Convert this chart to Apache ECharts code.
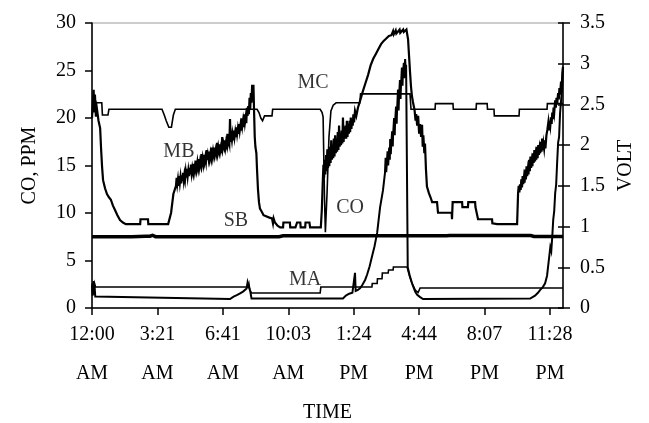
<!DOCTYPE html>
<html><head><meta charset="utf-8">
<script src="https://cdn.jsdelivr.net/npm/echarts@6/dist/echarts.min.js"></script>
<style>html,body{margin:0;padding:0;background:#fff}#c{width:649px;height:423px}</style>
</head><body><div id="c"></div>
<script>
// x values are minutes after midnight
const X_TICK_LABELS = ['12:00\nAM','3:21\nAM','6:41\nAM','10:03\nAM','1:24\nPM','4:44\nPM','8:07\nPM','11:28\nPM'];
const X_TICK_STEP = 201;
const X_MAX = 1447;
const PPM_TICKS = [0,5,10,15,20,25,30];
const VOLT_TICKS = [0,0.5,1,1.5,2,2.5,3,3.5];

// CO, ppm (left axis)
const CO = [[0,2.4],[2,1.3],[4,2.6],[6,1.4],[8,2.3],[10,1.2],[13,1.0],[424,0.95],[430,1.1],[435,1.2],[440,1.3],[445,1.35],[450,1.5],[455,1.55],[460,1.7],[465,1.75],[470,1.95],[475,2.05],[478,2.7],[481,2.3],[486,1.8],[490,1.0],[771,1.0],[780,1.3],[790,1.5],[800,1.6],[806,1.7],[808,3.7],[810,1.8],[817,1.9],[824,2.1],[830,2.4],[839,2.95],[845,3.5],[853,4.4],[860,5.4],[868,6.5],[876,7.9],[885,10.6],[894,12.4],[900,14.2],[902,15.8],[904,14.3],[906,15.4],[908,16.5],[910,15.0],[913,16.9],[915,15.6],[916,17.8],[918,16.2],[919,17.0],[922,18.6],[924,17.0],[925,18.2],[928,20.0],[930,18.2],[931,19.4],[934,21.2],[936,19.4],[937,20.6],[940,23.0],[942,20.8],[943,22.0],[946,24.0],[948,22.0],[949,23.2],[952,25.3],[954,23.4],[955,24.6],[958,25.8],[959,24.2],[960,25.0],[962,26.2],[964,24.8],[965,25.6],[968,25.6],[970,4.3],[977,3.3],[983,2.6],[993,1.7],[999,1.4],[1008,1.15],[1017,0.95],[1346,1.0],[1352,1.1],[1361,1.3],[1370,1.6],[1377,1.9],[1385,2.2],[1392,2.6],[1398,3.4],[1401,4.3],[1405,5.5],[1408,6.4],[1411,6.0],[1414,7.5],[1417,9.3],[1420,10.2],[1423,12.1],[1426,13.0],[1429,15.3],[1432,17.4],[1435,18.0],[1438,20.5],[1441,21.8],[1444,23.0],[1447,25.4]];

// sensor voltages (right axis)
const MA = [[0,0.30],[2,0.20],[4,0.33],[6,0.22],[8,0.30],[11,0.258],[479,0.258],[482,0.30],[485,0.22],[490,0.184],[701,0.184],[703,0.258],[860,0.258],[861,0.30],[876,0.30],[877,0.36],[891,0.36],[892,0.43],[910,0.43],[911,0.467],[925,0.467],[926,0.503],[968,0.503],[975,0.40],[983,0.307],[993,0.22],[1002,0.19],[1008,0.246],[1447,0.246]];

const MB = [[0,2.33],[3,2.55],[5,2.68],[7,2.40],[9,2.62],[12,2.35],[15,2.45],[20,2.30],[25,2.21],[28,1.95],[31,1.73],[34,1.57],[40,1.47],[46,1.40],[52,1.36],[58,1.33],[64,1.26],[71,1.20],[78,1.14],[86,1.08],[95,1.05],[104,1.03],[148,1.03],[149,1.09],[172,1.09],[173,1.03],[234,1.03],[243,1.17],[250,1.40],[258,1.50],
[260,1.60],[262,1.52],[264,1.58],[266,1.50],[268,1.62],[270,1.54],[272,1.61],[274,1.53],[276,1.63],[278,1.56],[280,1.66],[282,1.57],[284,1.64],[286,1.58],[288,1.67],[290,1.60],[292,1.71],[294,1.62],[296,1.69],[298,1.62],[300,1.72],[302,1.64],[304,1.76],[306,1.66],[308,1.72],[310,1.67],[312,1.77],[314,1.68],[316,1.74],[318,1.70],[320,1.81],[322,1.72],[324,1.79],[326,1.73],[328,1.83],[330,1.74],[332,1.80],[334,1.76],[336,1.89],[338,1.78],[340,1.84],[342,1.78],[344,1.88],[346,1.80],[348,1.85],[350,1.80],[352,1.94],[354,1.82],[356,1.88],[358,1.83],[360,1.92],[362,1.84],[364,1.90],[366,1.85],[368,1.97],[370,1.87],[372,1.93],[374,1.88],[376,1.97],[378,1.89],[380,1.94],[382,1.90],[384,2.03],[386,1.92],[388,1.98],[390,1.93],[392,2.01],[394,1.93],[396,1.98],[398,1.95],[400,2.10],[402,1.97],[404,2.02],[406,1.98],[408,2.06],[410,1.98],[412,2.04],[414,2.00],[416,2.14],[418,2.02],[420,2.06],[422,2.02],[424,2.32],[426,2.04],[428,2.12],[430,2.06],[432,2.13],[434,2.06],[436,2.18],[438,2.10],[440,2.16],[442,2.10],[444,2.22],[446,2.14],[448,2.20],[450,2.14],[452,2.26],[454,2.18],[456,2.24],[458,2.18],[460,2.33],[462,2.24],[464,2.30],[466,2.22],[468,2.38],[470,2.28],[472,2.34],[474,2.27],[476,2.46],[478,2.36],[480,2.48],[482,2.38],[484,2.58],[486,2.44],[488,2.64],[490,2.52],[492,2.74],[493,2.76],[494,2.60],[496,2.74],[498,2.40],[500,2.10],[502,1.98],[505,1.90],[507,1.70],[510,1.45],[513,1.30],[516,1.22],[522,1.18],[527,1.14],[532,1.12],[545,1.11],[553,1.10],[556,1.04],[558,1.10],[562,1.05],[570,1.01],[578,0.99],[587,0.99],[588,1.05],[608,1.05],[609,0.99],[625,0.99],[630,1.05],[640,1.05],[641,0.99],[655,0.99],[656,1.05],[668,1.05],[670,0.99],[703,0.99],
[706,1.20],[709,1.55],[711,1.76],[713,1.60],[715,1.82],[717,1.64],[719,1.88],[721,1.68],[723,1.95],[725,1.72],[727,1.92],[729,1.74],[731,1.98],[733,1.78],[735,2.06],[737,1.82],[739,2.00],[741,1.84],[743,2.08],[745,1.86],[747,2.12],[749,1.90],[751,2.06],[753,1.92],[755,2.16],[757,1.94],[759,2.24],[761,1.98],[763,2.14],[765,2.00],[767,2.18],[769,2.02],[771,2.34],[773,2.04],[775,2.22],[777,2.08],[779,2.24],[781,2.08],[783,2.30],[785,2.10],[787,2.26],[789,2.14],[791,2.30],[793,2.16],[795,2.34],[797,2.20],[799,2.32],[801,2.24],[803,2.38],[805,2.28],[808,2.42],[812,2.36],[817,2.46],[824,2.55],[832,2.66],[840,2.76],[848,2.86],[856,2.98],[864,3.06],[872,3.12],[880,3.18],[888,3.24],[896,3.28],[904,3.31],[912,3.34],[920,3.35],[925,3.40],[927,3.36],[931,3.37],[933,3.41],[935,3.37],[940,3.38],[945,3.42],[947,3.38],[952,3.39],[956,3.42],[958,3.39],[962,3.40],[966,3.42],[968,3.41],[971,3.30],[974,3.10],[977,2.90],[980,2.72],[983,2.60],[986,2.53],[991,2.43],[994,2.30],[996,2.38],[999,2.24],[1002,2.36],[1005,2.14],[1008,2.26],[1011,2.10],[1014,2.25],[1016,1.98],[1018,2.12],[1021,1.90],[1023,2.02],[1026,1.70],[1029,1.49],[1035,1.41],[1040,1.36],[1045,1.30],[1060,1.30],[1063,1.17],[1105,1.17],[1106,1.09],[1108,1.30],[1137,1.30],[1138,1.24],[1155,1.24],[1156,1.30],[1177,1.30],[1178,1.24],[1183,1.24],[1186,1.09],[1229,1.09],[1230,1.04],[1245,1.03],[1306,1.03],
[1309,1.41],[1311,1.50],[1313,1.42],[1315,1.52],[1317,1.45],[1319,1.58],[1321,1.48],[1323,1.62],[1325,1.52],[1327,1.60],[1329,1.54],[1331,1.70],[1333,1.58],[1335,1.74],[1337,1.62],[1339,1.70],[1341,1.64],[1343,1.82],[1345,1.68],[1347,1.86],[1349,1.72],[1351,1.80],[1353,1.74],[1355,1.90],[1357,1.78],[1359,1.94],[1361,1.80],[1363,1.88],[1365,1.82],[1367,1.98],[1369,1.84],[1371,2.00],[1373,1.88],[1375,1.96],[1377,1.90],[1379,2.04],[1381,1.92],[1383,2.08],[1385,1.94],[1387,2.02],[1389,1.96],[1391,2.06],[1393,1.96],[1396,2.12],[1399,2.19],[1402,2.28],[1404,2.18],[1406,2.30],[1408,2.24],[1410,2.34],[1412,2.26],[1414,2.40],[1416,2.32],[1418,2.46],[1420,2.40],[1423,2.55],[1425,2.46],[1427,2.58],[1429,2.50],[1432,2.64],[1434,2.56],[1436,2.70],[1438,2.62],[1441,2.78],[1443,2.70],[1445,2.88],[1447,2.96]];

const MC = [[0,2.52],[30,2.52],[32,2.37],[49,2.37],[52,2.44],[215,2.44],[222,2.37],[228,2.30],[236,2.22],[244,2.22],[250,2.37],[256,2.44],[507,2.44],[513,2.40],[519,2.33],[524,2.30],[530,2.36],[553,2.36],[555,2.44],[701,2.44],[707,2.40],[710,2.345],[714,1.4],[717,0.93],[722,1.4],[728,2.1],[734,2.42],[741,2.49],[750,2.52],[823,2.52],[825,2.63],[977,2.63],[980,2.44],[1054,2.44],[1055,2.51],[1109,2.51],[1110,2.44],[1180,2.44],[1181,2.51],[1214,2.51],[1215,2.44],[1235,2.44],[1236,2.36],[1312,2.36],[1313,2.44],[1398,2.44],[1399,2.51],[1447,2.51]];

const SB = [[0,0.876],[75,0.876],[78,0.892],[81,0.876],[122,0.876],[125,0.893],[128,0.876],[165,0.88],[170,0.893],[178,0.882],[186,0.893],[195,0.876],[276,0.876],[280,0.895],[284,0.876],[575,0.876],[580,0.896],[587,0.886],[768,0.886],[772,0.9],[776,0.886],[1090,0.886],[1094,0.9],[1098,0.89],[1348,0.89],[1352,0.9],[1358,0.878],[1447,0.878]];

// series name labels placed in data coordinates (minutes, ppm)
const LABELS = [
  {name:'MC', value:[679,23.7]},
  {name:'MB', value:[267,16.4]},
  {name:'SB', value:[442,9.2]},
  {name:'CO', value:[793,10.6]},
  {name:'MA', value:[655,2.95]}
];

const FONT = 'Liberation Serif, Times New Roman, serif';
const chart = echarts.init(document.getElementById('c'), null, {renderer:'canvas'});
const lineS = (name, data, yIdx, w) => ({
  name, type:'line', data, yAxisIndex:yIdx, showSymbol:false, symbol:'none',
  lineStyle:{color:'#000', width:w, join:'miter'}, animation:false, silent:true, z:3
});
chart.setOption({
  animation:false,
  backgroundColor:'#fff',
  grid:{left:92, right:86, top:23, bottom:115, outerBoundsMode:'none', containLabel:false,
        show:true, borderColor:'#9a9a9a', borderWidth:1},
  xAxis:{
    type:'value', min:0, max:X_MAX, interval:X_TICK_STEP,
    name:'TIME', nameLocation:'middle', nameGap:95,
    nameTextStyle:{fontFamily:FONT, fontSize:20, color:'#000'},
    axisLine:{show:true, onZero:false, lineStyle:{color:'#000', width:1.5}},
    axisTick:{show:true, inside:false, length:7, lineStyle:{color:'#000', width:1.5}},
    axisLabel:{fontFamily:FONT, fontSize:20, color:'#000', margin:7, lineHeight:39, showMaxLabel:false,
      formatter:(v)=>{const i=Math.round(v/X_TICK_STEP); return Math.abs(v-i*X_TICK_STEP)<1 && X_TICK_LABELS[i]!==undefined ? X_TICK_LABELS[i] : '';}},
    splitLine:{show:false}
  },
  yAxis:[
    {type:'value', position:'left', min:PPM_TICKS[0], max:PPM_TICKS[PPM_TICKS.length-1], interval:PPM_TICKS[1]-PPM_TICKS[0],
     name:'CO, PPM', nameLocation:'middle', nameGap:52, nameRotate:90,
     nameTextStyle:{fontFamily:FONT, fontSize:20, color:'#000'},
     axisLine:{show:true, lineStyle:{color:'#000', width:1.5}},
     axisTick:{show:true, inside:false, length:7, lineStyle:{color:'#000', width:1.5}},
     axisLabel:{fontFamily:FONT, fontSize:20, color:'#000', margin:16},
     splitLine:{show:false}},
    {type:'value', position:'right', min:VOLT_TICKS[0], max:VOLT_TICKS[VOLT_TICKS.length-1], interval:VOLT_TICKS[1]-VOLT_TICKS[0],
     name:'VOLT', nameLocation:'middle', nameGap:47, nameRotate:90,
     nameTextStyle:{fontFamily:FONT, fontSize:20, color:'#000'},
     axisLine:{show:true, lineStyle:{color:'#000', width:1.5}},
     axisTick:{show:true, inside:false, length:7, lineStyle:{color:'#000', width:1.5}},
     axisLabel:{fontFamily:FONT, fontSize:20, color:'#000', margin:17},
     splitLine:{show:false}},
    {type:'value', position:'right', offset:0, min:VOLT_TICKS[0], max:VOLT_TICKS[VOLT_TICKS.length-1], interval:VOLT_TICKS[1]-VOLT_TICKS[0],
     axisLine:{show:false}, axisTick:{show:true, inside:true, length:5, lineStyle:{color:'#000', width:1.5}},
     axisLabel:{show:false}, splitLine:{show:false}}
  ],
  series:[
    lineS('SB', SB, 1, 3.5),
    lineS('MA', MA, 1, 1.6),
    lineS('MC', MC, 1, 1.6),
    lineS('MB', MB, 1, 2.2),
    lineS('CO', CO, 0, 2.0),
    {type:'scatter', data:LABELS, yAxisIndex:0, symbolSize:1, itemStyle:{color:'rgba(0,0,0,0)'}, silent:true, z:10,
     label:{show:true, position:'inside', formatter:'{b}', fontFamily:FONT, fontSize:20, color:'#000'}}
  ]
});
</script></body></html>
